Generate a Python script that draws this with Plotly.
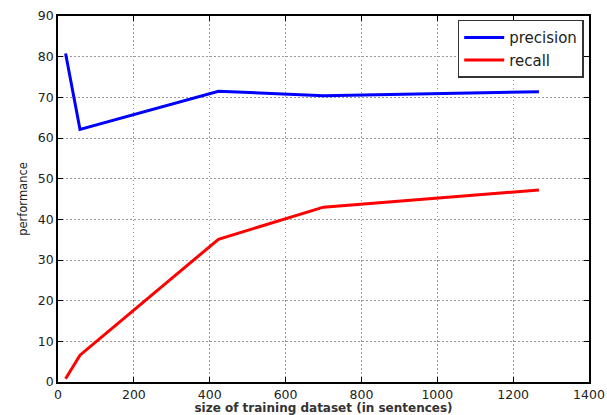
import plotly.graph_objects as go

sizes = [20, 58, 423, 700, 1268]
precision = [80.8, 62.1, 71.5, 70.4, 71.4]
recall = [0.8, 6.6, 35.1, 43.0, 47.2]

x_ticks = [0, 200, 400, 600, 800, 1000, 1200, 1400]
y_ticks = [0, 10, 20, 30, 40, 50, 60, 70, 80, 90]

fig = go.Figure()
fig.add_trace(go.Scatter(x=sizes, y=precision, mode="lines", name="precision",
                         line=dict(color="#0000ff", width=3)))
fig.add_trace(go.Scatter(x=sizes, y=recall, mode="lines", name="recall",
                         line=dict(color="#ff0000", width=3)))

axis_common = dict(
    showline=True, linecolor="black", linewidth=1.5, mirror="ticks",
    ticks="inside", ticklen=5, tickcolor="black", tickwidth=1,
    showgrid=True, gridcolor="#999999", griddash="1.5px,2.5px", gridwidth=1,
    zeroline=False, automargin=False,
    tickfont=dict(family="DejaVu Sans", size=12.5, color="#222222"),
)

fig.update_xaxes(range=[0, 1400], tickvals=x_ticks,
                 title=dict(text="<b>size of training dataset (in sentences)</b>",
                            font=dict(family="DejaVu Sans", size=12, color="#333333"),
                            standoff=2),
                 **axis_common)
fig.update_yaxes(range=[0, 90], tickvals=y_ticks,
                 title=dict(text="performance",
                            font=dict(family="DejaVu Sans", size=11.5, color="#222222"),
                            standoff=8),
                 **axis_common)

fig.update_layout(
    width=607, height=415,
    margin=dict(l=58, r=18, t=16, b=33),
    plot_bgcolor="white", paper_bgcolor="white",
    legend=dict(x=0.99, y=0.99, xanchor="right", yanchor="top",
                bordercolor="#333333", borderwidth=1.5, bgcolor="white",
                font=dict(family="DejaVu Sans", size=15, color="#222222"),
                itemwidth=40, tracegroupgap=0),
    showlegend=True,
)

fig.write_html("out.html", config={"displayModeBar": False},
               post_script="document.body.style.margin='0';document.body.style.padding='0';")
